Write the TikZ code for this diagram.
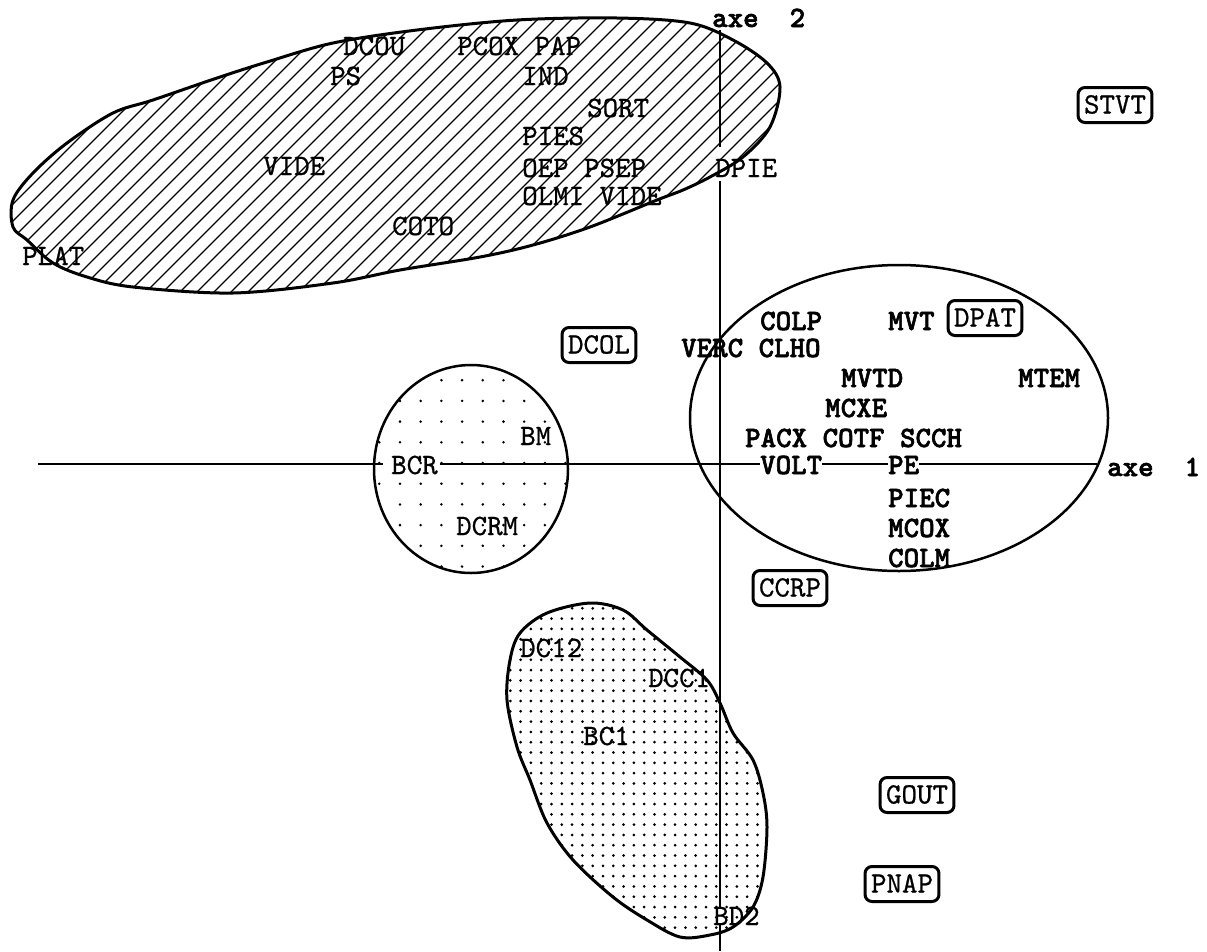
\documentclass[tikz,border=0pt]{standalone}
\usepackage{fontspec}
\newfontfamily\heavytt{lmmonolt10-bold.otf}[FakeBold=2]
\newfontfamily\regtt{lmmono10-regular.otf}[FakeBold=0.7]
\begin{document}
\begin{tikzpicture}[x=1pt,y=-1pt,
  lab/.style={anchor=base west,inner sep=0pt,text height=17pt,text depth=0pt,font=\fontsize{29.5}{32}\selectfont\regtt},
  blab/.style={lab,font=\fontsize{29.5}{32}\selectfont\heavytt},
  boxlab/.style={draw,line width=3pt,rounded corners=7pt,inner xsep=6pt,inner ysep=9pt,text height=17pt,text depth=0pt,font=\fontsize{29.5}{32}\selectfont\regtt},
  axisline/.style={line width=2pt},
  outline/.style={line width=3pt,line join=round},
  hatchline/.style={line width=1.1pt},
]
\useasboundingbox (0,0) rectangle (1207,951);

% ---- hatched blob ----
\begin{scope}
  \clip plot[smooth cycle,tension=0.55] coordinates {(13,200) (33,173) (67,143) (113,113) (153,100) (217,78) (267,62) (333,43) (417,30) (517,20) (617,18) (690,23) (733,40) (767,63) (780,87) (770,127) (743,157) (710,177) (683,190) (657,200) (590,227) (533,245) (480,257) (400,270) (333,283) (233,293) (133,287) (87,277) (53,263) (27,240) (13,227)};
  \foreach \c in {200,217,...,930} \draw[hatchline] (\c,0) -- (\c-330,330);
\end{scope}
\draw[outline] plot[smooth cycle,tension=0.55] coordinates {(13,200) (33,173) (67,143) (113,113) (153,100) (217,78) (267,62) (333,43) (417,30) (517,20) (617,18) (690,23) (733,40) (767,63) (780,87) (770,127) (743,157) (710,177) (683,190) (657,200) (590,227) (533,245) (480,257) (400,270) (333,283) (233,293) (133,287) (87,277) (53,263) (27,240) (13,227)};

% ---- dotted circle ----
\begin{scope}
  \clip (471,469) ellipse (97 and 104);
  \foreach \i in {-4,...,9}{\foreach \j in {-6,...,6}{\fill (400+20.7*\i,463+20.7*\j) circle (1.4);}}
\end{scope}
\draw[line width=2.5pt] (471,469) ellipse (97 and 104);

% ---- dotted lower blob ----
\begin{scope}
  \clip plot[smooth cycle,tension=0.55] coordinates {(590,603) (547,613) (520,633) (510,660) (507,700) (517,747) (530,780) (547,823) (573,860) (613,897) (647,920) (680,937) (710,935) (733,927) (753,907) (763,877) (767,827) (763,793) (753,760) (733,733) (720,703) (707,680) (680,657) (647,630) (623,610)};
  \foreach \i in {0,...,28}{\foreach \j in {0,...,35}{\fill (500+10.3*\i,598+10.3*\j) circle (1.5);}}
\end{scope}
\draw[outline] plot[smooth cycle,tension=0.55] coordinates {(590,603) (547,613) (520,633) (510,660) (507,700) (517,747) (530,780) (547,823) (573,860) (613,897) (647,920) (680,937) (710,935) (733,927) (753,907) (763,877) (767,827) (763,793) (753,760) (733,733) (720,703) (707,680) (680,657) (647,630) (623,610)};

% ---- right ellipse ----
\draw[line width=2.5pt] (899,418) ellipse (209 and 153);

% ---- labels in hatched blob ----
\node[lab] (DCOU) at (343,55) {DCOU};
\node[lab] (PCOX) at (457,55) {PCOX PAP};
\node[lab] (PS) at (330,85) {PS};
\node[lab] (IND) at (522,85) {IND};
\node[lab] (SORT) at (587,117) {SORT};
\node[lab] (PIES) at (522,145) {PIES};
\node[lab] (OEP) at (522,177) {OEP PSEP};
\node[lab] (OLMI) at (522,205) {OLMI VIDE};
\node[lab] (VIDE) at (263,175) {VIDE};
\node[lab] (COTO) at (392,235) {COTO};
\node[lab] (PLAT) at (22,265) {PLAT};
\node[lab] (DPIE) at (715,177) {DPIE};

% ---- dotted circle labels ----
\node[lab] (BM) at (520,445) {BM};
\node[lab] (BCR) at (391,474) {BCR};
\node[lab] (DCRM) at (456,535) {DCRM};

% ---- lower blob labels ----
\node[lab] (DC12) at (520,657) {DC12};
\node[lab] (DCC1) at (648,687) {DCC1};
\node[lab] (BC1) at (583,745) {BC1};
\node[lab] (BD2) at (713,925) {BD2};

% ---- bold labels in ellipse ----
\node[blab] (COLP) at (760,330) {COLP};
\node[blab] (MVT) at (888,330) {MVT};
\node[blab] (VERC) at (681,357) {VERC CLHO};
\node[blab] (MVTD) at (841,387) {MVTD};
\node[blab] (MTEM) at (1018,387) {MTEM};
\node[blab] (MCXE) at (825,417) {MCXE};
\node[blab] (PACX) at (745,447) {PACX COTF SCCH};
\node[blab] (VOLT) at (760,474) {VOLT};
\node[blab] (PE) at (888,474) {PE};
\node[blab] (PIEC) at (888,507) {PIEC};
\node[blab] (MCOX) at (888,537) {MCOX};
\node[blab] (COLM) at (888,567) {COLM};

% ---- axis labels ----
\node[blab] (axe1) at (1107,476) {axe\ \ 1};
\node[blab] (axe2) at (712,27) {axe\ \ 2};

% ---- boxed labels ----
\node[boxlab] (STVT) at (1115,105) {STVT};
\node[boxlab] (DPAT) at (985,318) {DPAT};
\node[boxlab] (DCOL) at (599,345) {DCOL};
\node[boxlab] (CCRP) at (790,588) {CCRP};
\node[boxlab] (GOUT) at (917,795) {GOUT};
\node[boxlab] (PNAP) at (902,884) {PNAP};

% ---- axes ----
\coordinate (hL) at (38,464);
\coordinate (vT) at (720,30);
\coordinate (vB) at (720,951);
\draw[axisline,shorten >=8pt] (hL) -- (hL -| BCR.west);
\draw[axisline,shorten <=2pt] (hL -| BCR.east) -- (hL -| VOLT.west);
\draw[axisline] (hL -| VOLT.east) -- (hL -| PE.west);
\draw[axisline,shorten >=10pt] (hL -| PE.east) -- (hL -| axe1.west);
\draw[axisline,shorten >=13pt] (vT) -- (vT |- DPIE.north);
\draw[axisline,shorten <=4pt] (vT |- DPIE.south) -- (vT |- BD2.north);
\draw[axisline] (vT |- BD2.south) -- (vB);
\end{tikzpicture}
\end{document}
